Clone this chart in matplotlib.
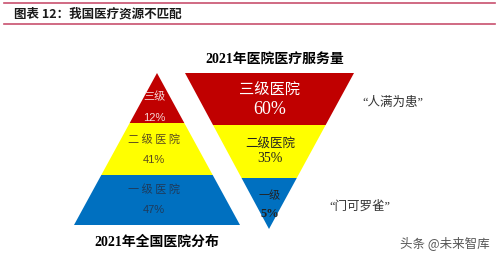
import matplotlib.pyplot as plt
from matplotlib.patches import Polygon

plt.rcParams['font.family'] = ['Liberation Serif', 'Noto Sans CJK SC', 'DejaVu Sans']

# data
left_levels = ["三级", "二级医院", "一级医院"]
left_shares = [12, 41, 47]
right_levels = ["三级医院", "二级医院", "一级"]
right_shares = [60, 35, 5]
colors = ["#C00000", "#FFFF00", "#0070C0"]
left_title = "2021年全国医院分布"
right_title = "2021年医院医疗服务量"
quotes = ["\u201c人满为患\u201d", "\u201c门可罗雀\u201d"]

fig = plt.figure(figsize=(4.99, 2.57), dpi=100)
ax = fig.add_axes([0, 0, 1, 1])
ax.set_xlim(0, 499)
ax.set_ylim(257, 0)
ax.axis('off')

# header
ax.plot([4, 495], [3, 3], color="#C8506E", lw=1.2)
ax.plot([4, 495], [24, 24], color="#C8506E", lw=1.2)
ax.text(14, 14, "图表 12：我国医疗资源不匹配", fontsize=9, fontweight='bold',
        style='italic', va='center', ha='left', color="#1a1a1a",
        family=['Noto Sans CJK SC'])

# left pyramid (apex at top)
apex_x, apex_y, base_y, half_w = 157, 73, 225, 83
bounds = [apex_y, 123, 175, base_y]
def half(y):
    return half_w * (y - apex_y) / (base_y - apex_y)
for i in range(3):
    y0, y1 = bounds[i], bounds[i + 1]
    pts = [(apex_x - half(y0), y0), (apex_x + half(y0), y0),
           (apex_x + half(y1), y1), (apex_x - half(y1), y1)]
    ax.add_patch(Polygon(pts, closed=True, color=colors[i], lw=0))
left_pos = [(97, 118), (139, 160), (189, 210)]
left_tc = ["#F5D5D5", "#5a4a20", "#1f3a5a"]
for i in range(3):
    lab = left_levels[i] if len(left_levels[i]) < 3 else " ".join(left_levels[i])
    ax.text(apex_x - 3, left_pos[i][0], lab, fontsize=8, ha='center',
            va='center', color=left_tc[i], family=['Noto Sans CJK SC'])
    ax.text(apex_x - 3, left_pos[i][1], f"{left_shares[i]}%", fontsize=8, ha='center',
            va='center', color=left_tc[i], family=['Liberation Sans'])
ax.text(157, 242, left_title, fontsize=10, fontweight='bold', ha='center', va='center')

# right inverted pyramid
tip_x, tip_y, top_y, top_l, top_r = 269, 229, 73, 185, 354
rb = [top_y, 125, 178, tip_y]
def xl(y):
    return top_l + (tip_x - top_l) * (y - top_y) / (tip_y - top_y)
def xr(y):
    return top_r + (tip_x - top_r) * (y - top_y) / (tip_y - top_y)
for i in range(3):
    y0, y1 = rb[i], rb[i + 1]
    pts = [(xl(y0), y0), (xr(y0), y0), (xr(y1), y1), (xl(y1), y1)]
    ax.add_patch(Polygon(pts, closed=True, color=colors[i], lw=0))
ax.text(270, 89, right_levels[0], fontsize=11, ha='center', va='center', color='white',
        family=['Noto Sans CJK SC'])
ax.text(270, 110, f"{right_shares[0]}%", fontsize=13, ha='center', va='center', color='white')
ax.text(270, 144, right_levels[1], fontsize=9, ha='center', va='center', color="#222222",
        family=['Noto Sans CJK SC'])
ax.text(270, 158, f"{right_shares[1]}%", fontsize=10, ha='center', va='center', color="#222222")
ax.text(270, 196, right_levels[2], fontsize=8, ha='center', va='center', color="#222222",
        family=['Noto Sans CJK SC'])
ax.text(270, 214, f"{right_shares[2]}%", fontsize=9, fontweight='bold', ha='center',
        va='center', color="#222222")
ax.text(275, 59, right_title, fontsize=10, fontweight='bold', ha='center', va='center')

# quotes
ax.text(393, 103, quotes[0], fontsize=9, ha='center', va='center', color="#333333")
ax.text(360, 207, quotes[1], fontsize=9, ha='center', va='center', color="#333333")

# watermark
ax.text(445, 243, "头条 @未来智库", fontsize=9, ha='center', va='center', color="#555555",
        family=['Noto Sans CJK SC'])

fig.savefig("out.png", dpi=100)
